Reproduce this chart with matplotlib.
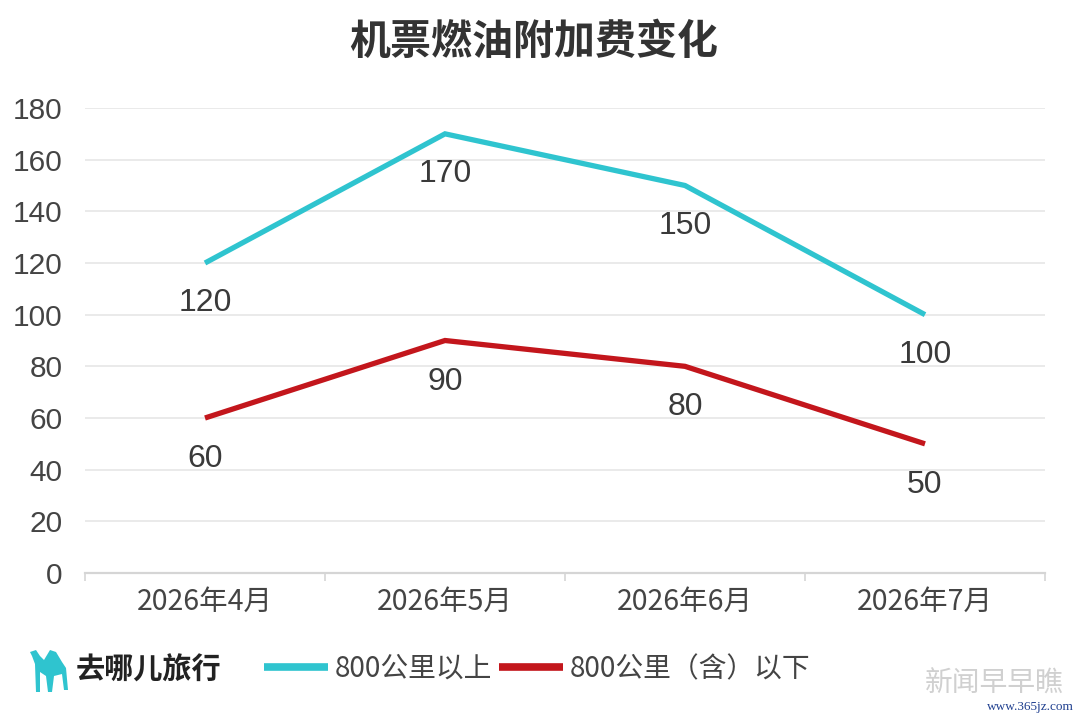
import matplotlib
matplotlib.use("Agg")
import matplotlib.pyplot as plt
from matplotlib.lines import Line2D
from matplotlib.ticker import FixedLocator
from matplotlib.patches import Polygon

categories = ["2026年4月", "2026年5月", "2026年6月", "2026年7月"]
over_800 = [120, 170, 150, 100]
under_800 = [60, 90, 80, 50]
series_names = ["800公里以上", "800公里（含）以下"]
yticks = [0, 20, 40, 60, 80, 100, 120, 140, 160, 180]
title = "机票燃油附加费变化"

CJK = ["Noto Sans CJK SC", "DejaVu Sans"]
NUM = ["Liberation Sans", "DejaVu Sans"]
cyan = "#2FC4CF"
red = "#C3161C"
txt = "#3A3A3A"

fig = plt.figure(figsize=(10.8, 7.15), dpi=100)
ax = fig.add_axes([85/1080, 1-573/715, 960/1080, 465/715])

x = list(range(len(categories)))
ax.plot(x, over_800, color=cyan, lw=3.8, solid_joinstyle="miter", solid_capstyle="butt", zorder=3)
ax.plot(x, under_800, color=red, lw=3.8, solid_joinstyle="miter", solid_capstyle="butt", zorder=3)

for xi, v in zip(x, over_800):
    ax.annotate(str(v), (xi, v), xytext=(0, -40), textcoords="offset pixels",
                ha="center", va="center", fontsize=23, color=txt, family=NUM)
for xi, v in zip(x, under_800):
    ax.annotate(str(v), (xi, v), xytext=(0, -41), textcoords="offset pixels",
                ha="center", va="center", fontsize=23, color=txt, family=NUM)

ax.set_xlim(-0.5, len(categories) - 0.5)
ax.set_ylim(0, 180)
ax.set_yticks(yticks)
ax.set_yticklabels([str(t) for t in yticks], family=NUM, fontsize=21.5, color="#444444")
ax.tick_params(axis="y", length=0, pad=16)
ax.set_xticks(x)
ax.set_xticklabels(categories, family=CJK, fontsize=20.5, color="#444444")
ax.tick_params(axis="x", which="major", length=0, pad=10)
ax.xaxis.set_minor_locator(FixedLocator([i - 0.5 for i in range(len(categories) + 1)]))
ax.tick_params(axis="x", which="minor", length=6, width=1.2, color="#D5D5D5", direction="out")

ax.grid(axis="y", color="#E6E6E6", lw=1.2)
ax.set_axisbelow(True)
for s in ["top", "right", "left"]:
    ax.spines[s].set_visible(False)
ax.spines["bottom"].set_color("#D5D5D5")
ax.spines["bottom"].set_linewidth(1.6)
ax.spines["bottom"].set_zorder(2)

fig.text(534/1080, 1-42/715, title, ha="center", va="center", fontsize=29.5,
         fontweight="bold", color="#333333", family=CJK)

handles = [Line2D([], [], color=cyan, lw=5.5, solid_capstyle="butt"),
           Line2D([], [], color=red, lw=5.5, solid_capstyle="butt")]
leg = fig.legend(handles, series_names, loc="center left", bbox_to_anchor=(239/1080, 1-669/715),
                 frameon=False, ncol=2, handlelength=2.3, handletextpad=0.25, columnspacing=0.25,
                 prop={"family": CJK, "size": 20})
for t in leg.get_texts():
    t.set_color("#444444")

# logo text
fig.text(76/1080, 1-670/715, "去哪儿旅行", ha="left", va="center", fontsize=21,
         fontweight="bold", color="#222222", family=CJK)
# simple camel mark
camel = [(30, 652), (36, 650), (40, 656), (44, 660), (50, 650), (56, 652), (62, 662), (66, 668),
         (68, 690), (64, 690), (62, 674), (54, 676), (52, 692), (48, 692), (46, 676),
         (40, 672), (40, 692), (36, 692), (35, 664), (32, 656)]
fig.patches.append(Polygon([(px/1080, 1-py/715) for px, py in camel], closed=True,
                           transform=fig.transFigure, facecolor=cyan, edgecolor="none"))

# watermark
fig.text(925/1080, 1-684/715, "新闻早早瞧", ha="left", va="center", fontsize=20,
         color="#D0D0D0", family=CJK)
fig.text(1074/1080, 1-707/715, "www.365jz.com", ha="right", va="center", fontsize=9.5,
         color="#1F3F8F", family=["Liberation Serif", "DejaVu Serif"])

fig.savefig("out.png", dpi=100, facecolor="white")
